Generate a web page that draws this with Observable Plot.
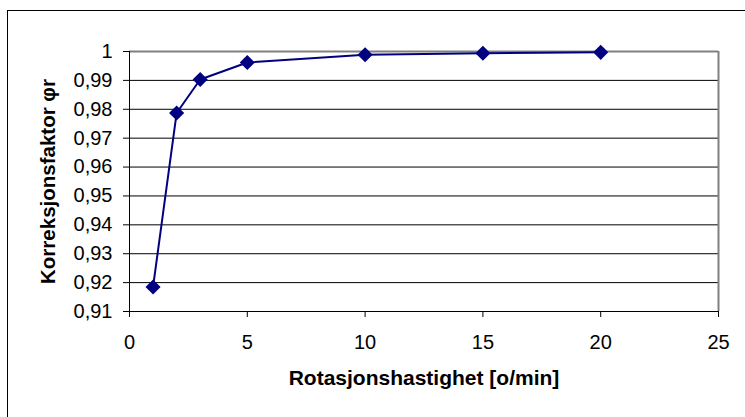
<!DOCTYPE html>
<html>
<head>
<meta charset="utf-8">
<script src="https://cdn.jsdelivr.net/npm/d3@7"></script>
<script src="https://cdn.jsdelivr.net/npm/@observablehq/plot@0.6"></script>
<style>
  html, body { margin: 0; padding: 0; background: #fff; overflow: hidden; width: 745px; height: 417px; }
  #chart { position: absolute; left: 0; top: 0; }
  #border { position: absolute; left: 7px; top: 10px; width: 800px; height: 500px; border: 1.5px solid #000; background: transparent; pointer-events: none; }
</style>
</head>
<body>
<div id="chart"></div>
<div id="border"></div>
<script>
const speeds = [1, 2, 3, 5, 10, 15, 20];
const factors = [0.9185, 0.9787, 0.9903, 0.9962, 0.9989, 0.9994, 0.9997];
const xTicks = [0, 5, 10, 15, 20, 25];
const yTicks = [0.91, 0.92, 0.93, 0.94, 0.95, 0.96, 0.97, 0.98, 0.99, 1];
const xTitle = "Rotasjonshastighet [o/min]";
const yTitle = "Korreksjonsfaktor φr";

const data = speeds.map((s, i) => ({speed: s, factor: factors[i]}));
const fmt = d => String(+d.toFixed(2)).replace(".", ",");
const navy = "#000080";

const plot = Plot.plot({
  width: 745,
  height: 417,
  marginLeft: 129,
  marginRight: 27,
  marginTop: 51,
  marginBottom: 106,
  style: {fontFamily: "'Liberation Sans', Arial, sans-serif", fontSize: "20px", background: "transparent", color: "#000"},
  x: {domain: [0, 25]},
  y: {domain: [0.91, 1]},
  marks: [
    Plot.ruleY(yTicks.filter(d => d > 0.91 && d < 1), {stroke: "#000", strokeWidth: 1}),
    Plot.ruleY([1], {stroke: "#808080", strokeWidth: 2}),
    Plot.ruleX([25], {stroke: "#808080", strokeWidth: 2}),
    Plot.ruleX([0], {stroke: "#000", strokeWidth: 1}),
    Plot.ruleY([0.91], {stroke: "#000", strokeWidth: 1}),
    Plot.axisY({ticks: yTicks, tickFormat: fmt, tickSize: 6, tickPadding: 11, label: null, stroke: "#000", fontSize: 20}),
    Plot.axisX({ticks: xTicks, tickFormat: d => String(d), tickSize: 6, tickPadding: 17, label: null, stroke: "#000", fontSize: 20}),
    Plot.line(data, {x: "speed", y: "factor", stroke: navy, strokeWidth: 2}),
    Plot.dot(data, {x: "speed", y: "factor", symbol: "diamond2", fill: navy, stroke: "none", r: 6.8}),
    Plot.text([yTitle], {frameAnchor: "left", dx: -81, rotate: -90, textAnchor: "middle", fontWeight: "bold", fontSize: 20.5, lineAnchor: "middle", fill: "#000"}),
    Plot.text([xTitle], {frameAnchor: "bottom", dy: 67, textAnchor: "middle", fontWeight: "bold", fontSize: 21, lineAnchor: "middle", fill: "#000"})
  ]
});
document.getElementById("chart").appendChild(plot);
</script>
</body>
</html>
